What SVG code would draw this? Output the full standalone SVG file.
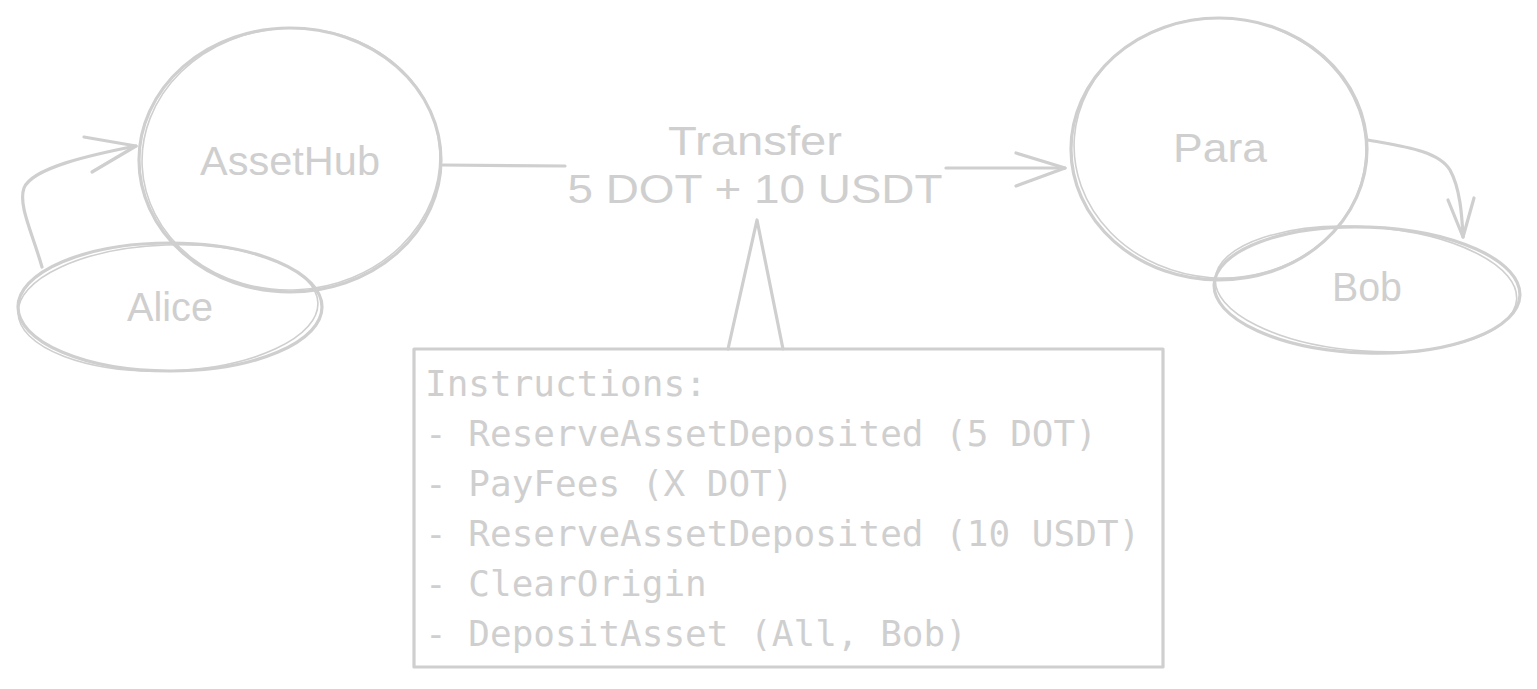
<svg xmlns="http://www.w3.org/2000/svg" width="1537" height="689" viewBox="0 0 1537 689">
<style>
.s{fill:none;stroke:#cfcfcf;stroke-width:3.2;stroke-linecap:round;stroke-linejoin:round}
.s2{fill:none;stroke:#cfcfcf;stroke-width:1.6;stroke-linecap:round}
.h{font-family:"Liberation Sans",Arial,sans-serif;fill:#cfcfcf;font-size:40px}
.m{font-family:"DejaVu Sans Mono","Liberation Mono",monospace;fill:#cfcfcf;font-size:36px}
</style>
<rect width="1537" height="689" fill="#ffffff"/>
<g id="connectors">
  <path class="s" d="M42,267 C32,232 18,205 24,188 C32,168 90,155 136,146"/>
  <path class="s" d="M84,137 L136,146 L92,172"/>
  <path class="s" d="M443,165 L565,166"/>
  <path class="s" d="M946,168 L1065,168"/>
  <path class="s" d="M1016,153 L1065,168 L1016,186"/>
  <path class="s" d="M1368,140 C1400,146 1438,150 1450,170 C1460,188 1462,215 1463,237"/>
  <path class="s" d="M1448,200 L1463,237 L1474,198"/>
  <path class="s" d="M728,349 L757,220 L783,349"/>
</g>
<g id="assethub">
  <ellipse class="s" cx="290" cy="160" rx="151" ry="132"/>
  <ellipse class="s2" cx="291" cy="159" rx="149" ry="131" transform="rotate(-3 291 159)"/>
  <text class="h" x="290" y="175" text-anchor="middle" textLength="180" lengthAdjust="spacingAndGlyphs">AssetHub</text>
</g>
<g id="alice">
  <ellipse class="s" cx="170" cy="307" rx="152" ry="64"/>
  <ellipse class="s2" cx="168" cy="308" rx="150" ry="63" transform="rotate(-2 168 308)"/>
  <text class="h" x="170" y="321" text-anchor="middle" textLength="86" lengthAdjust="spacingAndGlyphs">Alice</text>
</g>
<g id="transfer-label">
  <text class="h" x="755" y="155" text-anchor="middle" textLength="174" lengthAdjust="spacingAndGlyphs">Transfer</text>
  <text class="h" x="755" y="203" text-anchor="middle" textLength="375" lengthAdjust="spacingAndGlyphs">5 DOT + 10 USDT</text>
</g>
<g id="para">
  <ellipse class="s" cx="1219" cy="149" rx="148" ry="131"/>
  <ellipse class="s2" cx="1220" cy="148" rx="146" ry="130" transform="rotate(4 1220 148)"/>
  <text class="h" x="1220" y="162" text-anchor="middle" textLength="94" lengthAdjust="spacingAndGlyphs">Para</text>
</g>
<g id="bob">
  <ellipse class="s" cx="1367" cy="290" rx="153" ry="63" transform="rotate(2 1367 290)"/>
  <ellipse class="s2" cx="1366" cy="289" rx="151" ry="62" transform="rotate(4 1366 289)"/>
  <text class="h" x="1367" y="301" text-anchor="middle" textLength="70" lengthAdjust="spacingAndGlyphs">Bob</text>
</g>
<g id="instructions">
  <rect class="s" x="414" y="349" width="749" height="318"/>
  <text class="m" x="425" y="396">Instructions:</text>
  <text class="m" x="425" y="446">- ReserveAssetDeposited (5 DOT)</text>
  <text class="m" x="425" y="496">- PayFees (X DOT)</text>
  <text class="m" x="425" y="546">- ReserveAssetDeposited (10 USDT)</text>
  <text class="m" x="425" y="596">- ClearOrigin</text>
  <text class="m" x="425" y="646">- DepositAsset (All, Bob)</text>
</g>
</svg>
